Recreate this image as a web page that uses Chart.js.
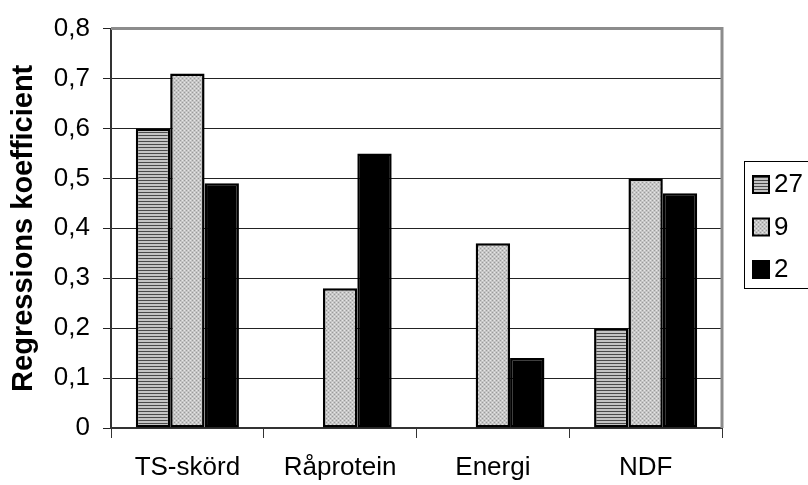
<!DOCTYPE html>
<html>
<head>
<meta charset="utf-8">
<script src="https://cdn.jsdelivr.net/npm/chart.js@4.4.0/dist/chart.umd.min.js"></script>
<style>
  html, body { margin: 0; padding: 0; background: #fff; }
  #wrap { width: 808px; height: 485px; }
</style>
</head>
<body>
<div id="wrap"><canvas id="chart" width="808" height="485"></canvas></div>
<script>
const categories = ['TS-skörd', 'Råprotein', 'Energi', 'NDF'];
const seriesLabels = ['27', '9', '2'];
const values27 = [0.6, 0, 0, 0.2];
const values9 = [0.71, 0.28, 0.37, 0.5];
const values2 = [0.49, 0.55, 0.14, 0.47];
const yMin = 0;
const yMax = 0.8;
const yStep = 0.1;

const FONT = "'Liberation Sans', Arial, sans-serif";

// hatch fills like the old excel chart
const makePattern = (draw, w, h) => {
  const c = document.createElement('canvas');
  c.width = w;
  c.height = h;
  draw(c.getContext('2d'));
  return c.getContext('2d').createPattern(c, 'repeat');
};

const stripes = makePattern((ctx) => {
  ctx.fillStyle = '#c4c4c4';
  ctx.fillRect(0, 0, 4, 3);
  ctx.fillStyle = '#4a4a4a';
  ctx.fillRect(0, 0, 4, 1);
}, 4, 3);

const dots = makePattern((ctx) => {
  ctx.fillStyle = '#c6c6c6';
  ctx.fillRect(0, 0, 4, 4);
  ctx.fillStyle = '#9a9a9a';
  ctx.fillRect(0, 0, 1, 1);
  ctx.fillRect(2, 2, 1, 1);
  ctx.fillStyle = '#e6e6e6';
  ctx.fillRect(2, 0, 1, 1);
  ctx.fillRect(0, 2, 1, 1);
}, 4, 4);

const fills = [stripes, dots, '#000'];
const seriesValues = [values27, values9, values2];

const plotFrame = {
  id: 'plotFrame',
  beforeDatasetsDraw(chart) {
    const { ctx, chartArea: a } = chart;
    ctx.save();
    ctx.strokeStyle = '#8c8c8c';
    ctx.lineWidth = 3;
    ctx.beginPath();
    ctx.moveTo(a.left, a.top);
    ctx.lineTo(a.right, a.top);
    ctx.lineTo(a.right, a.bottom);
    ctx.stroke();
    ctx.restore();
  }
};

const boxLegend = {
  id: 'boxLegend',
  afterDraw(chart) {
    const { ctx } = chart;
    const x = 744, y = 161, w = 80, h = 127;
    ctx.save();
    ctx.strokeStyle = '#000';
    ctx.lineWidth = 1;
    ctx.strokeRect(x + 0.5, y + 0.5, w, h);
    ctx.font = '26px ' + FONT;
    ctx.textBaseline = 'middle';
    chart.data.datasets.forEach((ds, i) => {
      const cy = 184 + i * 42.5;
      ctx.fillStyle = ds.backgroundColor;
      ctx.fillRect(753, cy - 8, 16, 17);
      ctx.strokeStyle = '#000';
      ctx.lineWidth = 2;
      ctx.strokeRect(753, cy - 8, 16, 17);
      ctx.fillStyle = '#000';
      ctx.fillText(ds.label, 774, cy + 1);
    });
    ctx.restore();
  }
};

new Chart(document.getElementById('chart'), {
  type: 'bar',
  data: {
    labels: categories,
    datasets: seriesLabels.map((label, i) => ({
      label: label,
      data: seriesValues[i],
      backgroundColor: fills[i],
      borderColor: '#000',
      borderWidth: 2.5,
      borderSkipped: false,
      categoryPercentage: 0.675,
      barPercentage: 1
    }))
  },
  options: {
    responsive: false,
    animation: false,
    layout: { padding: { top: 21, right: 86, left: 0, bottom: 0 } },
    plugins: {
      legend: { display: false },
      tooltip: { enabled: false }
    },
    scales: {
      x: {
        afterFit: (scale) => { scale.height = 57; },
        grid: {
          offset: true,
          drawOnChartArea: false,
          tickLength: 10,
          color: '#333',
          lineWidth: 1
        },
        border: { color: '#333', width: 2 },
        ticks: {
          color: '#000',
          padding: 14,
          font: { family: FONT, size: 26 }
        }
      },
      y: {
        min: yMin,
        max: yMax,
        afterFit: (scale) => { scale.width = 111; },
        grid: {
          color: '#222',
          lineWidth: 1,
          tickLength: 8
        },
        border: { color: '#333', width: 2 },
        ticks: {
          stepSize: yStep,
          color: '#000',
          padding: 13,
          font: { family: FONT, size: 26 },
          callback: (v) => (v === 0 ? '0' : v.toFixed(1).replace('.', ','))
        },
        title: {
          display: true,
          text: 'Regressions koefficient',
          color: '#000',
          padding: { top: 7, bottom: 0 },
          font: { family: FONT, size: 29, weight: 'bold' }
        }
      }
    }
  },
  plugins: [plotFrame, boxLegend]
});
</script>
</body>
</html>
